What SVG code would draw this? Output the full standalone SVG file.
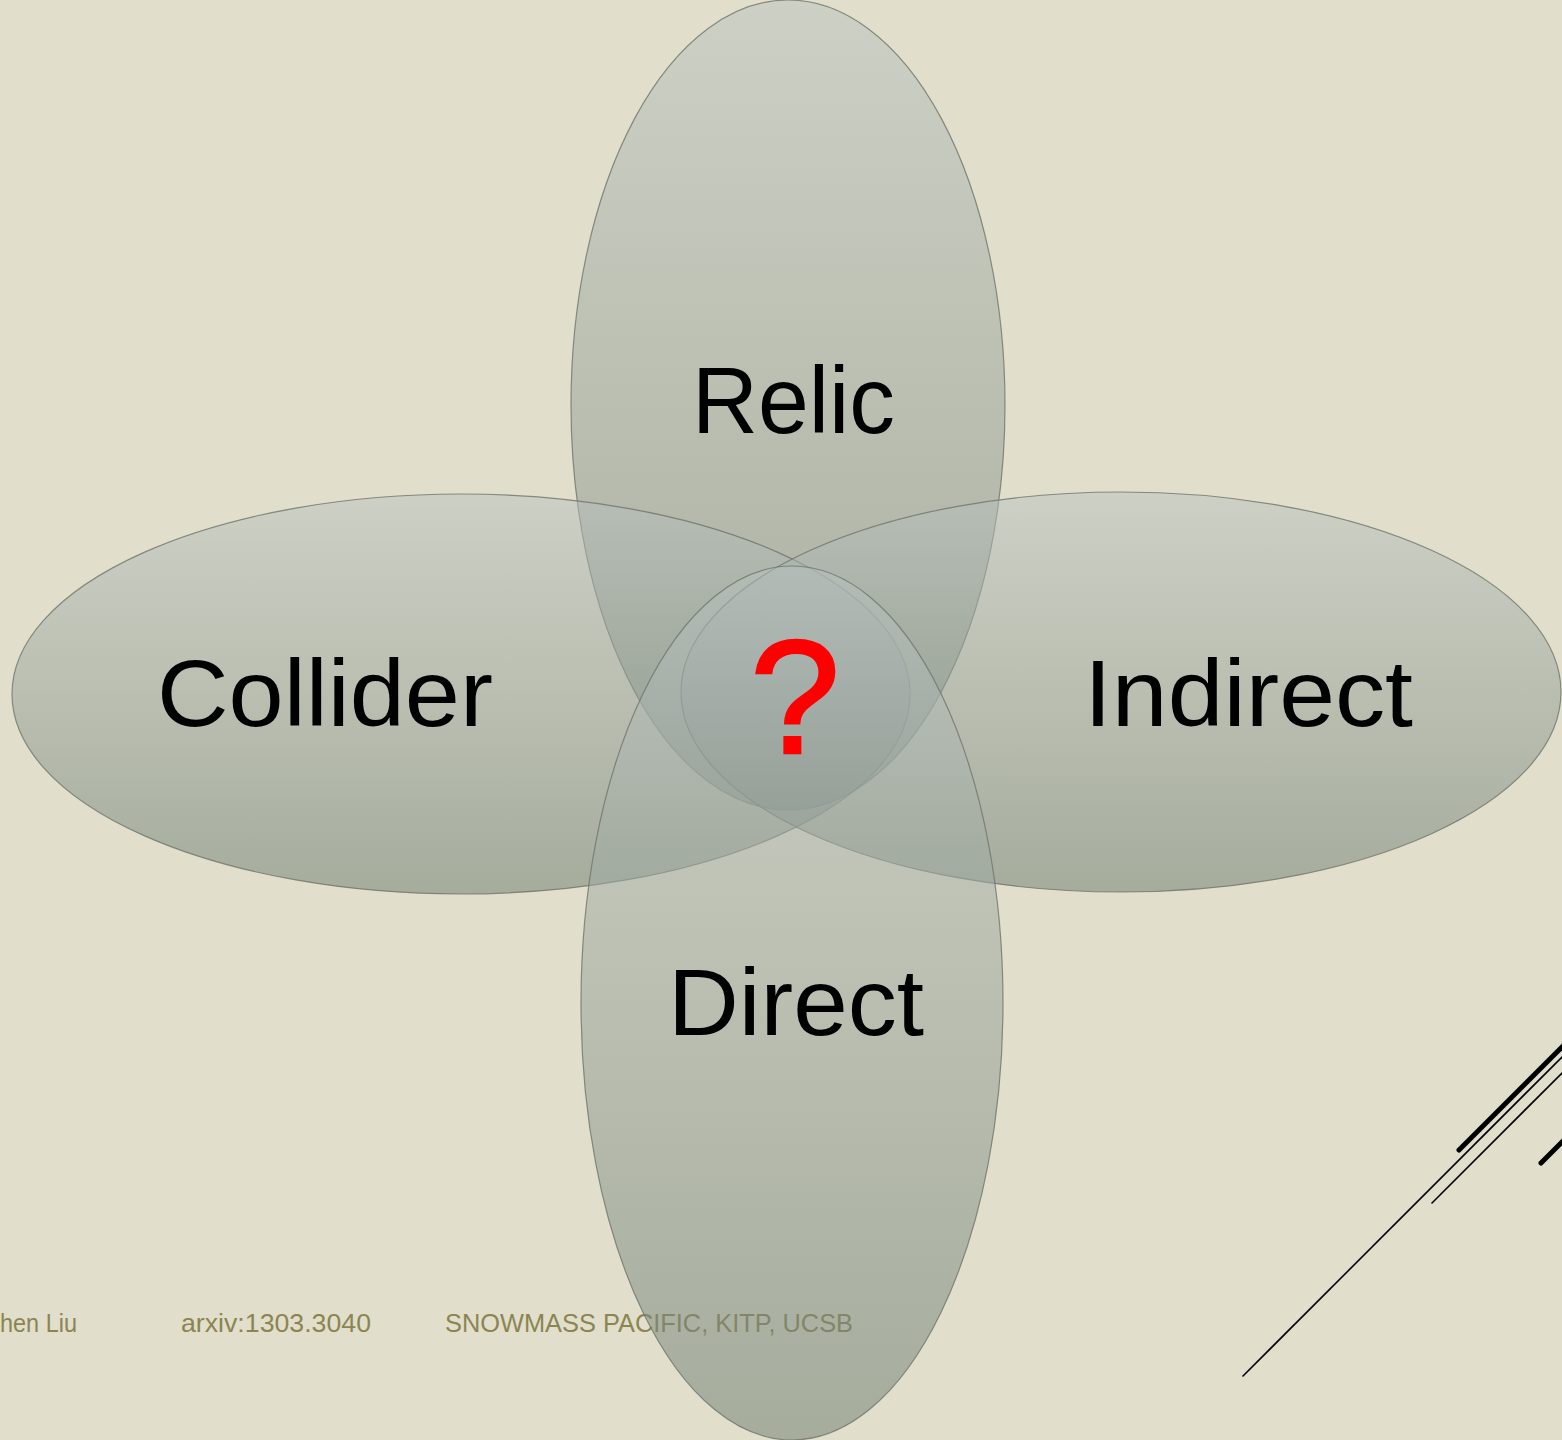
<svg xmlns="http://www.w3.org/2000/svg" width="1562" height="1440" viewBox="0 0 1562 1440">
  <style>
    .ell { fill: url(#g); stroke: #6f746c; stroke-width: 1.2; stroke-opacity: 0.8; }
    .lbl { font-family: "Liberation Sans", Arial, sans-serif; font-size: 95px; fill: #000; }
    .foot { font-family: "Liberation Sans", Arial, sans-serif; font-size: 26px; fill: #8c8552; }
    .deco { stroke: #000; stroke-linecap: round; fill: none; }
  </style>
  <defs>
    <linearGradient id="g" x1="0" y1="0" x2="0" y2="1">
      <stop offset="0" stop-color="#b9c1bf" stop-opacity="0.5"/>
      <stop offset="1" stop-color="#6f7e72" stop-opacity="0.52"/>
    </linearGradient>
  </defs>
  <rect width="1562" height="1440" fill="#e1dfcb"/>

  <g id="footer">
    <text class="foot" x="0" y="1332" textLength="77" lengthAdjust="spacingAndGlyphs">hen Liu</text>
    <text class="foot" x="181" y="1332" textLength="190" lengthAdjust="spacingAndGlyphs">arxiv:1303.3040</text>
    <text class="foot" x="445" y="1332" textLength="408" lengthAdjust="spacingAndGlyphs">SNOWMASS PACIFIC, KITP, UCSB</text>
  </g>

  <g id="decor">
    <line class="deco" x1="1243" y1="1376" x2="1562" y2="1057" stroke-width="1.6"/>
    <line class="deco" x1="1432" y1="1203" x2="1562" y2="1073" stroke-width="1.6"/>
    <line class="deco" x1="1459" y1="1150" x2="1564" y2="1045" stroke-width="5"/>
    <line class="deco" x1="1541" y1="1163" x2="1564" y2="1140" stroke-width="5"/>
  </g>

  <g id="relic">
    <ellipse class="ell" cx="788" cy="405" rx="217" ry="405"/>
  </g>
  <g id="collider">
    <ellipse class="ell" cx="461" cy="694" rx="449" ry="200"/>
  </g>
  <g id="indirect">
    <ellipse class="ell" cx="1121" cy="692" rx="440" ry="200"/>
  </g>
  <g id="direct">
    <ellipse class="ell" cx="792" cy="1003" rx="211" ry="437"/>
  </g>

  <g id="labels">
    <text class="lbl" x="692" y="433" textLength="203" lengthAdjust="spacingAndGlyphs">Relic</text>
    <text class="lbl" x="157" y="726" textLength="336" lengthAdjust="spacingAndGlyphs">Collider</text>
    <text class="lbl" x="1084" y="726" textLength="329" lengthAdjust="spacingAndGlyphs">Indirect</text>
    <text class="lbl" x="668" y="1035" textLength="256" lengthAdjust="spacingAndGlyphs">Direct</text>
  </g>
  <g id="question">
    <text x="795" y="753" text-anchor="middle" font-family="Liberation Sans, Arial, sans-serif" font-size="162" fill="#ff0000" stroke="#ff0000" stroke-width="2.5">?</text>
  </g>
</svg>
